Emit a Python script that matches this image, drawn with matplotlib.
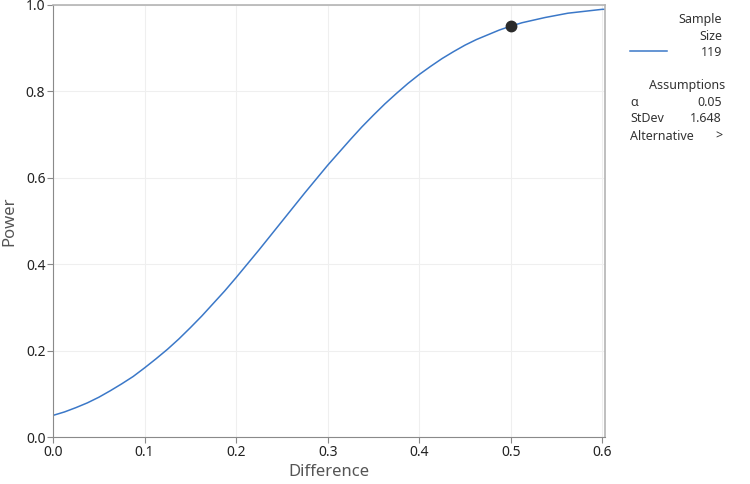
import matplotlib
matplotlib.use("Agg")
import matplotlib.pyplot as plt

plt.rcParams['font.family'] = ['Noto Sans', 'DejaVu Sans']

# power curve
difference = [0.0, 0.0125, 0.025, 0.0375, 0.05, 0.0625, 0.075, 0.0875, 0.1, 0.1125,
              0.125, 0.1375, 0.15, 0.1625, 0.175, 0.1875, 0.2, 0.2125, 0.225, 0.2375,
              0.25, 0.2625, 0.275, 0.2875, 0.3, 0.3125, 0.325, 0.3375, 0.35, 0.3625,
              0.375, 0.3875, 0.4, 0.4125, 0.425, 0.4375, 0.45, 0.4625, 0.475, 0.4875,
              0.5, 0.5125, 0.525, 0.5375, 0.55, 0.5625, 0.575, 0.5875, 0.6, 0.605]
power = [0.050, 0.058, 0.068, 0.079, 0.092, 0.107, 0.123, 0.140, 0.160, 0.181,
         0.203, 0.227, 0.253, 0.280, 0.309, 0.338, 0.369, 0.401, 0.433, 0.466,
         0.499, 0.532, 0.565, 0.597, 0.629, 0.659, 0.689, 0.718, 0.745, 0.771,
         0.795, 0.818, 0.839, 0.858, 0.876, 0.892, 0.907, 0.920, 0.931, 0.942,
         0.951, 0.959, 0.965, 0.971, 0.976, 0.981, 0.984, 0.987, 0.990, 0.990]

target_diff = [0.5]
target_power = [0.951]

sample_size = "119"
assumptions = [("α", "0.05"), ("StDev", "1.648"), ("Alternative", ">")]

fig = plt.figure(figsize=(7.5, 4.84), dpi=100)
ax = fig.add_axes([0.0707, 0.0971, 0.7360, 0.8926])

ax.plot(difference, power, color="#3b78c8", lw=1.1)
ax.plot(target_diff, target_power, "o", color="#2b2b2b", ms=7.5, zorder=5)

ax.set_xlim(0, 0.603)
ax.set_ylim(0, 1.0)
ax.set_xticks([0.0, 0.1, 0.2, 0.3, 0.4, 0.5, 0.6])
ax.set_yticks([0.0, 0.2, 0.4, 0.6, 0.8, 1.0])
ax.xaxis.set_major_formatter(matplotlib.ticker.FormatStrFormatter("%.1f"))
ax.yaxis.set_major_formatter(matplotlib.ticker.FormatStrFormatter("%.1f"))
ax.grid(True, color="#efefef", lw=0.8)
ax.set_axisbelow(True)

for side in ["left", "bottom"]:
    ax.spines[side].set_color("#8a8a8a")
for side in ["top", "right"]:
    ax.spines[side].set_color("#b4b4b4")
    ax.spines[side].set_linewidth(1.2)

ax.tick_params(axis="both", direction="out", length=4, width=0.8, color="#8a8a8a",
               labelsize=10, labelcolor="#222222", pad=1.5)
ax.set_xlabel("Difference", fontsize=12, color="#555555", labelpad=3)
ax.set_ylabel("Power", fontsize=12, color="#555555", labelpad=6)

# legend / assumptions panel on the right
tc = "#333333"
fs = 9
fig.text(722 / 750, 1 - 20 / 484, "Sample", ha="right", va="center", fontsize=fs, color=tc)
fig.text(722 / 750, 1 - 36 / 484, "Size", ha="right", va="center", fontsize=fs, color=tc)
fig.text(722 / 750, 1 - 52 / 484, sample_size, ha="right", va="center", fontsize=fs, color=tc)
fig.add_artist(plt.Line2D([630 / 750, 667 / 750], [1 - 51 / 484, 1 - 51 / 484],
                          color="#3b78c8", lw=1.1))
fig.text(687 / 750, 1 - 86 / 484, "Assumptions", ha="center", va="center", fontsize=fs, color=tc)
for i, (name, val) in enumerate(assumptions):
    y = 1 - (102 + 17 * i) / 484
    fig.text(630 / 750, y, name, ha="left", va="center", fontsize=fs, color=tc)
    fig.text(722 / 750, y, val, ha="right", va="center", fontsize=fs, color=tc)

fig.savefig("out.png", dpi=100)
